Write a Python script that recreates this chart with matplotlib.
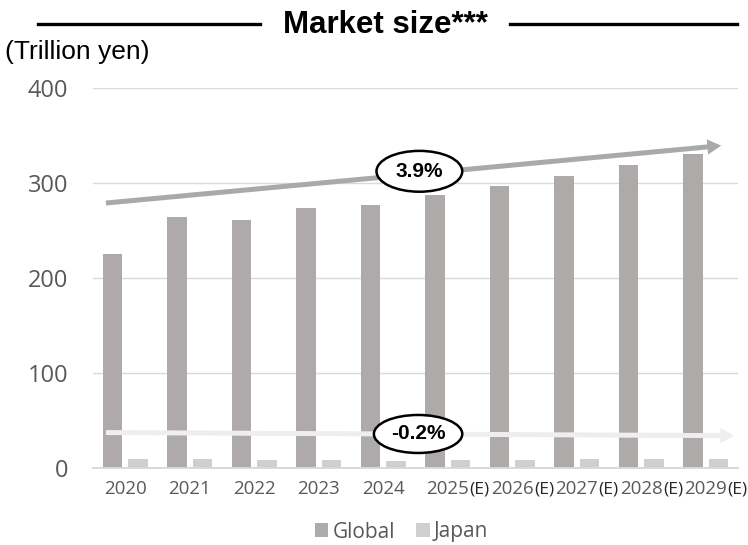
import matplotlib
matplotlib.use("Agg")
import matplotlib.pyplot as plt
from matplotlib.lines import Line2D
from matplotlib.patches import Ellipse
import numpy as np

# --- Data (trillion yen) ---
years = ["2020", "2021", "2022", "2023", "2024", "2025", "2026", "2027", "2028", "2029"]
estimated = [False, False, False, False, False, True, True, True, True, True]
global_size = [225, 264, 261, 273, 277, 287, 297, 307, 319, 330]
japan_size = [9.5, 9.1, 8.1, 7.7, 7.4, 8.1, 8.4, 8.8, 9.1, 9.1]
cagr_labels = ["3.9%", "-0.2%"]

# trend arrows: (x0, y0, x1, y1) in data units
global_trend = (-0.30, 278.6, 9.24, 339.0)
japan_trend = (-0.30, 37.0, 9.44, 33.7)

# --- Style ---
GLOBAL_COLOR = "#aeaaaa"
JAPAN_COLOR = "#d0cece"
TEXT_GRAY = "#595959"
GRID_COLOR = "#d9d9d9"

fig = plt.figure(figsize=(7.48, 5.45), dpi=100)
ax = fig.add_axes([93 / 748, 1 - 467.7 / 545, 645 / 748, 380 / 545])

x = np.arange(len(years))
bar_w = 0.30
ax.bar(x - 0.195, global_size, bar_w, color=GLOBAL_COLOR, label="Global", zorder=2)
ax.bar(x + 0.195, japan_size, bar_w, color=JAPAN_COLOR, label="Japan", zorder=2)

ax.set_xlim(-0.5, len(years) - 0.5)
ax.set_ylim(0, 400)
ax.set_yticks([0, 100, 200, 300, 400])
ax.grid(axis="y", color=GRID_COLOR, linewidth=1.0, zorder=0)
ax.set_axisbelow(True)
for side in ["left", "right", "top"]:
    ax.spines[side].set_visible(False)
ax.spines["bottom"].set_color(GRID_COLOR)
ax.spines["bottom"].set_linewidth(1.4)

ax.tick_params(axis="y", length=0, pad=18, labelsize=17, labelcolor=TEXT_GRAY)
ax.tick_params(axis="x", length=0, pad=8.5, labelsize=13.5, labelcolor=TEXT_GRAY)
for lab in ax.get_yticklabels():
    lab.set_family("Open Sans")

ax.set_xticks(x, labels=years)
tick_texts = ax.get_xticklabels()
for lab in tick_texts:
    lab.set_family("Open Sans")

# "(E)" suffix for forecast years
for lab, est in zip(tick_texts, estimated):
    if est:
        ax.annotate("(E)", xy=(1, 0), xycoords=lab, xytext=(0.3, 0.2),
                    textcoords="offset points", ha="left", va="bottom",
                    fontsize=12.5, family="Open Sans", color="#262626",
                    annotation_clip=False)

# trend arrows
for (x0, y0, x1, y1), col in [(global_trend, "#a9a9a9"), (japan_trend, "#eeeeee")]:
    ax.annotate("", xy=(x1, y1), xytext=(x0, y0),
                arrowprops=dict(arrowstyle="simple,head_length=1.0,head_width=1.1,tail_width=0.36",
                                mutation_scale=10, color=col, lw=0,
                                shrinkA=0, shrinkB=0),
                zorder=3)

# CAGR bubbles
bubbles = [((4.56, 312.0), 1.33, 43), ((4.54, 35.5), 1.37, 40)]
for ((cx, cy), w, h), txt in zip(bubbles, cagr_labels):
    ax.add_patch(Ellipse((cx, cy), w, h, facecolor="white", edgecolor="black",
                         linewidth=1.8, zorder=4))
    ax.text(cx, cy, txt, ha="center", va="center", fontsize=15, fontweight="bold",
            family="Liberation Sans", zorder=5)

# --- Title with rules on either side ---
fig.text(385 / 748, 1 - 33.3 / 545, "Market size***", ha="center", va="baseline",
         fontsize=22.5, fontweight="bold", family="Liberation Sans")
for x0, x1 in [(38, 260), (510, 737)]:
    fig.add_artist(Line2D([x0 / 748, x1 / 748], [1 - 24 / 545, 1 - 24 / 545],
                          color="black", linewidth=2.4))

fig.text(5 / 748, 1 - 52 / 545, "(Trillion yen)", ha="left", va="center",
         fontsize=19, family="Liberation Sans")

# --- Legend ---
leg = fig.legend(loc="center", bbox_to_anchor=(401.5 / 748, 1 - 532 / 545), ncol=2,
                 frameon=False, handlelength=0.65, handleheight=0.65,
                 handletextpad=0.2, columnspacing=1.0,
                 prop={"family": "Open Sans", "size": 15})
for t in leg.get_texts():
    t.set_color(TEXT_GRAY)

plt.savefig("out.png", dpi=100)
